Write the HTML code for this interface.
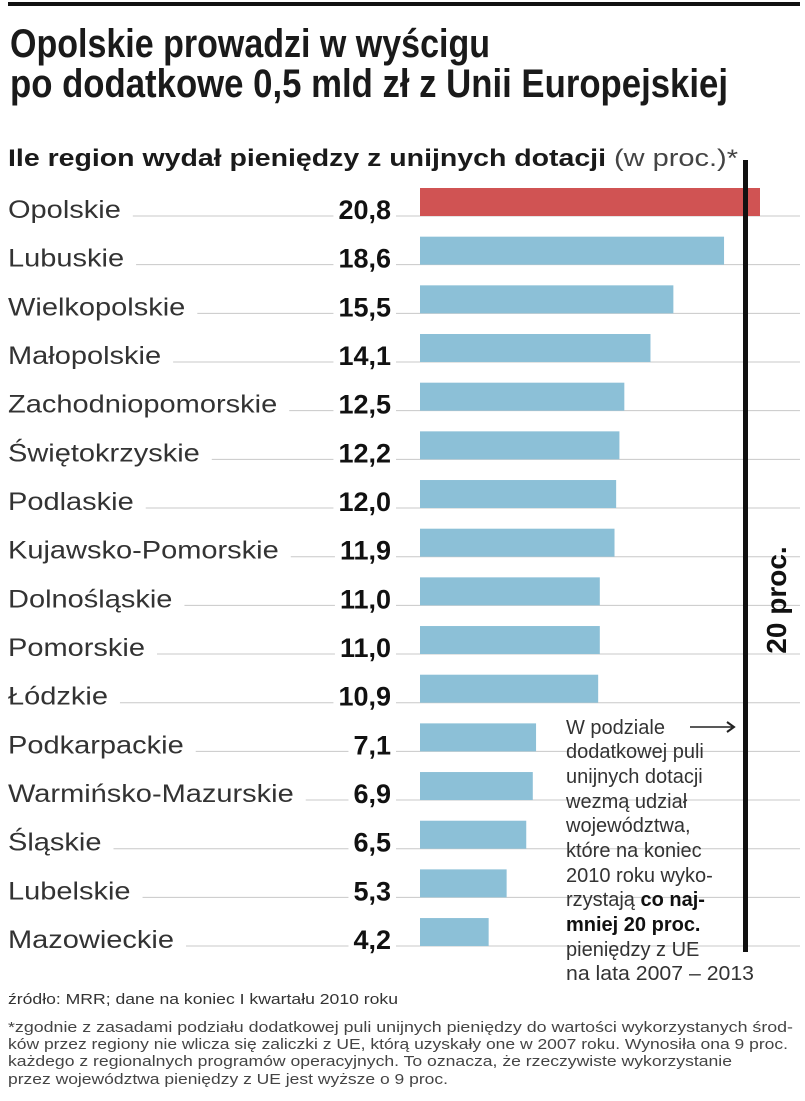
<!DOCTYPE html>
<html><head><meta charset="utf-8">
<style>
html,body{margin:0;padding:0;background:#fff;}
svg{display:block;font-family:"Liberation Sans","DejaVu Sans",sans-serif;}
</style></head>
<body>
<svg id="chart" width="805" height="1101" viewBox="0 0 805 1101">
<rect x="8" y="2" width="792" height="4" fill="#111"/>
<text x="10" y="57" font-size="40" font-weight="bold" fill="#1a1a1a" textLength="480" lengthAdjust="spacingAndGlyphs">Opolskie prowadzi w wyścigu</text>
<text x="10" y="97" font-size="40" font-weight="bold" fill="#1a1a1a" textLength="718" lengthAdjust="spacingAndGlyphs">po dodatkowe 0,5 mld zł z Unii Europejskiej</text>
<text x="8" y="166" font-size="24" fill="#1a1a1a"><tspan font-weight="bold" textLength="598" lengthAdjust="spacingAndGlyphs">Ile region wydał pieniędzy z unijnych dotacji</tspan><tspan dx="8" fill="#444" textLength="124" lengthAdjust="spacingAndGlyphs">(w proc.)*</tspan></text>
<g id="rows"></g>
<rect x="743" y="160" width="5" height="792" fill="#111"/>
<text transform="translate(786,600) rotate(-90)" text-anchor="middle" font-size="28" font-weight="bold" fill="#111">20 proc.</text>
<g font-size="20" fill="#333">
<text x="566" y="734">W podziale</text>
<text x="566" y="758">dodatkowej puli</text>
<text x="566" y="783">unijnych dotacji</text>
<text x="566" y="808">wezmą udział</text>
<text x="566" y="832">województwa,</text>
<text x="566" y="857">które na koniec</text>
<text x="566" y="882">2010 roku wyko-</text>
<text x="566" y="906">rzystają <tspan font-weight="bold" fill="#111">co naj-</tspan></text>
<text x="566" y="931" font-weight="bold" fill="#111">mniej 20 proc.</text>
<text x="566" y="956">pieniędzy z UE</text>
<text x="566" y="980" textLength="188" lengthAdjust="spacingAndGlyphs">na lata 2007 – 2013</text>
</g>
<line x1="690" y1="727" x2="732" y2="727" stroke="#222" stroke-width="1.5"/>
<path d="M727,722 L734,727 L727,732" fill="none" stroke="#222" stroke-width="2"/>
<text x="8" y="1004" font-size="15" fill="#333" textLength="390" lengthAdjust="spacingAndGlyphs">źródło: MRR; dane na koniec I kwartału 2010 roku</text>
<g font-size="15" fill="#444">
<text x="8" y="1032" textLength="785" lengthAdjust="spacingAndGlyphs">*zgodnie z zasadami podziału dodatkowej puli unijnych pieniędzy do wartości wykorzystanych środ-</text>
<text x="8" y="1049" textLength="780" lengthAdjust="spacingAndGlyphs">ków przez regiony nie wlicza się zaliczki z UE, którą uzyskały one w 2007 roku. Wynosiła ona 9 proc.</text>
<text x="8" y="1066" textLength="724" lengthAdjust="spacingAndGlyphs">każdego z regionalnych programów operacyjnych. To oznacza, że rzeczywiste wykorzystanie</text>
<text x="8" y="1084" textLength="440" lengthAdjust="spacingAndGlyphs">przez województwa pieniędzy z UE jest wyższe o 9 proc.</text>
</g>
</svg>
<script>
const regions = ["Opolskie","Lubuskie","Wielkopolskie","Małopolskie","Zachodniopomorskie","Świętokrzyskie","Podlaskie","Kujawsko-Pomorskie","Dolnośląskie","Pomorskie","Łódzkie","Podkarpackie","Warmińsko-Mazurskie","Śląskie","Lubelskie","Mazowieckie"];
const values = [20.8,18.6,15.5,14.1,12.5,12.2,12.0,11.9,11.0,11.0,10.9,7.1,6.9,6.5,5.3,4.2];
const valueLabels = ["20,8","18,6","15,5","14,1","12,5","12,2","12,0","11,9","11,0","11,0","10,9","7,1","6,9","6,5","5,3","4,2"];
const NS = "http://www.w3.org/2000/svg";
const x0 = 420, pxPerUnit = 340/20.8;
function xScale(v){ return x0 + v*pxPerUnit; }
function yRow(i){ return 208 + i*48.67; }
const g = document.getElementById('rows');
function mk(tag, attrs){ const e=document.createElementNS(NS,tag); for(const k in attrs) e.setAttribute(k,attrs[k]); g.appendChild(e); return e; }
regions.forEach((r,i)=>{
  const y = yRow(i);
  const ln = mk('line',{x1:8,y1:y+8,x2:800,y2:y+8,stroke:'#c8c8c8','stroke-width':1});
  
  
  const lbl = mk('text',{x:8,y:y+10,'font-size':25,fill:'#333'});
  lbl.textContent = r;
  
  
  const w0 = lbl.getBBox().width;
  lbl.setAttribute('textLength', w0*1.16);
  lbl.setAttribute('lengthAdjust','spacingAndGlyphs');
  const bb = lbl.getBBox();
  const cover = document.createElementNS(NS,'rect');
  cover.setAttribute('x',bb.x-2); cover.setAttribute('y',y); cover.setAttribute('width',w0*1.16+14); cover.setAttribute('height',12); cover.setAttribute('fill','#fff');
  g.insertBefore(cover,lbl);
  
  
  const val = mk('text',{x:391,y:y+11,'font-size':27,'font-weight':'bold',fill:'#111','text-anchor':'end'});
  val.textContent = valueLabels[i];
  
  
  const vb = val.getBBox();
  const vc = document.createElementNS(NS,'rect');
  vc.setAttribute('x',vb.x-5); vc.setAttribute('y',y); vc.setAttribute('width',vb.width+10); vc.setAttribute('height',12); vc.setAttribute('fill','#fff');
  g.insertBefore(vc,val);
  
  
  const bar = mk('rect',{x:x0,y:y-20,width:xScale(values[i])-x0,height:28,fill:i===0?'#d05353':'#8cc0d7'});
  
  
});
</script>
</body></html>
